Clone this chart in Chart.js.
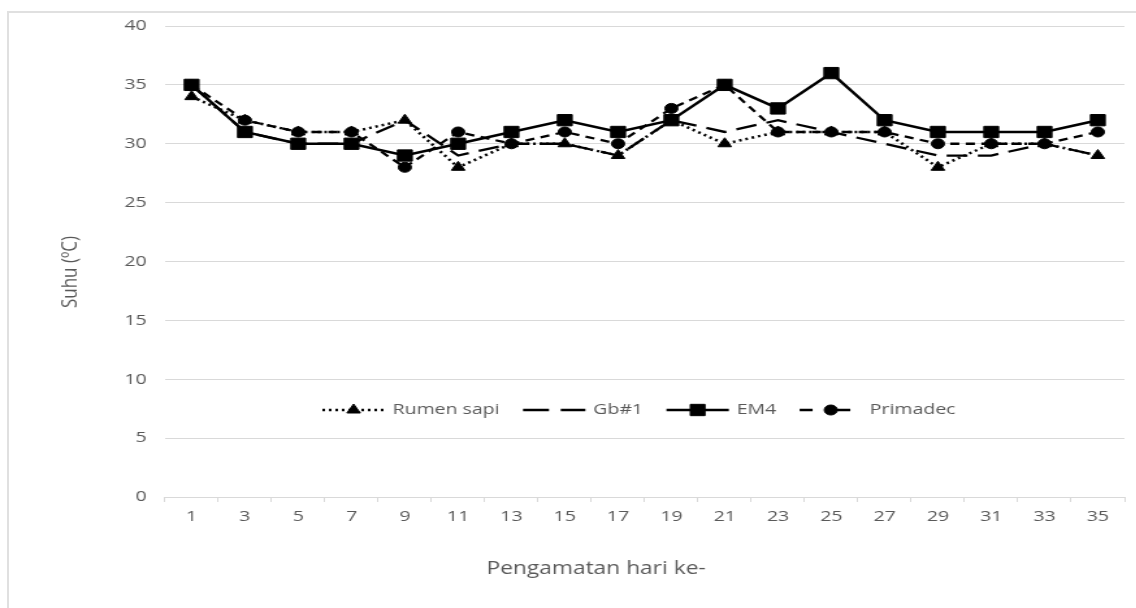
<!DOCTYPE html>
<html>
<head>
<meta charset="utf-8">
<title>Suhu</title>
<script src="https://cdn.jsdelivr.net/npm/chart.js@4.4.1/dist/chart.umd.min.js"></script>
<style>
    html, body { margin: 0; padding: 0; background: #fff; }
    #frame { position: relative; width: 1136px; height: 608px; overflow: hidden; }
    #border { position: absolute; left: 7px; top: 11px; width: 1200px; height: 700px; border: 2px solid #e0e0e0; }
    /* the reference is stretched sideways, so draw narrow and scale in x */
    #wrap { position: absolute; left: 0; top: 0; width: 874px; height: 608px; transform: scaleX(1.3); transform-origin: 0 0; }
</style>
</head>
<body>
<div id="frame">
    <div id="border"></div>
    <div id="wrap"><canvas id="suhu-chart"></canvas></div>
</div>
<script>
// Data
const days = ['1', '3', '5', '7', '9', '11', '13', '15', '17', '19', '21', '23', '25', '27', '29', '31', '33', '35'];
const rumenSapi = [34, 32, 31, 31, 32, 28, 30, 30, 29, 32, 30, 31, 31, 31, 28, 30, 30, 29];
const gb1 = [35, 31, 30, 30, 32, 29, 30, 30, 29, 32, 31, 32, 31, 30, 29, 29, 30, 29];
const em4 = [35, 31, 30, 30, 29, 30, 31, 32, 31, 32, 35, 33, 36, 32, 31, 31, 31, 32];
const primadec = [35, 32, 31, 31, 28, 31, 30, 31, 30, 33, 35, 31, 31, 31, 30, 30, 30, 31];
const suhuTicks = [0, 5, 10, 15, 20, 25, 30, 35, 40];

const xTitle = 'Pengamatan hari ke-';
const yTitle = 'Suhu (ºC)';

const FONT = "'Open Sans', sans-serif";
Chart.defaults.font.family = FONT;
Chart.defaults.color = '#595959';

// Legend sits inside the plot, Excel style: line sample with marker in the middle
const insideLegend = {
    id: 'insideLegend',
    afterDatasetsDraw(chart) {
        const ctx = chart.ctx;
        const y = 410;
        const sampleW = 48;
        let x = 248;
        ctx.save();
        ctx.font = '15px ' + FONT;
        ctx.textBaseline = 'middle';
        chart.data.datasets.forEach(ds => {
            ctx.strokeStyle = '#000';
            ctx.fillStyle = '#000';
            ctx.lineWidth = ds.borderWidth;
            ctx.setLineDash(ds.legendDash || []);
            ctx.beginPath();
            ctx.moveTo(x, y);
            ctx.lineTo(x + sampleW, y);
            ctx.stroke();
            ctx.setLineDash([]);
            if (ds.pointRadius > 0) {
                ctx.lineWidth = 1;
                Chart.helpers.drawPoint(ctx, {
                    pointStyle: ds.pointStyle,
                    radius: ds.pointRadius,
                    rotation: 0,
                    borderWidth: 1
                }, x + sampleW / 2, y);
            }
            ctx.fillStyle = '#595959';
            ctx.textAlign = 'left';
            const tx = x + sampleW + 6;
            ctx.fillText(ds.label, tx, y);
            x = tx + ctx.measureText(ds.label).width + 18;
        });
        ctx.restore();
    }
};

// Axis titles (placed where the reference has them)
const axisTitles = {
    id: 'axisTitles',
    afterDraw(chart) {
        const ctx = chart.ctx;
        ctx.save();
        ctx.fillStyle = '#595959';
        ctx.font = '17.5px ' + FONT;
        ctx.textAlign = 'center';
        ctx.textBaseline = 'alphabetic';
        ctx.fillText(xTitle, 458.5, 574);

        ctx.font = '17px ' + FONT;
        ctx.translate(54.6, 272);
        ctx.rotate(-Math.PI / 2);
        ctx.textBaseline = 'middle';
        ctx.fillText(yTitle, 0, 0);
        ctx.restore();
    }
};

new Chart(document.getElementById('suhu-chart'), {
    type: 'line',
    data: {
        labels: days,
        datasets: [{
            label: 'Rumen sapi',
            data: rumenSapi,
            borderColor: '#000',
            backgroundColor: '#000',
            borderWidth: 2.5,
            borderDash: [2, 3],
            legendDash: [2, 3],
            pointStyle: 'triangle',
            pointRadius: 6,
            pointBorderWidth: 1,
            order: 1
        }, {
            label: 'Gb#1',
            data: gb1,
            borderColor: '#000',
            backgroundColor: '#000',
            borderWidth: 2.3,
            borderDash: [16, 8],
            legendDash: [20, 9],
            pointRadius: 0,
            order: 3
        }, {
            label: 'EM4',
            data: em4,
            borderColor: '#000',
            backgroundColor: '#000',
            borderWidth: 2.5,
            pointStyle: 'rect',
            pointRadius: 8,
            pointBorderWidth: 1,
            order: 0
        }, {
            label: 'Primadec',
            data: primadec,
            borderColor: '#000',
            backgroundColor: '#000',
            borderWidth: 2.3,
            borderDash: [7, 5],
            legendDash: [10, 12, 17, 100],
            pointStyle: 'circle',
            pointRadius: 5,
            pointBorderWidth: 1,
            order: 2
        }]
    },
    options: {
        responsive: true,
        maintainAspectRatio: false,
        animation: false,
        events: [],
        layout: {
            padding: { top: 26, right: 4.8, left: 0, bottom: 0 }
        },
        plugins: {
            legend: { display: false },
            tooltip: { enabled: false }
        },
        scales: {
            x: {
                offset: true,
                grid: {
                    offset: true,
                    drawOnChartArea: false,
                    tickLength: 5,
                    color: '#d9d9d9'
                },
                border: { color: '#d9d9d9' },
                ticks: {
                    font: { size: 15 },
                    padding: 6,
                    maxRotation: 0,
                    autoSkip: false
                },
                afterFit: scale => { scale.height = 111; }
            },
            y: {
                min: suhuTicks[0],
                max: suhuTicks[suhuTicks.length - 1],
                afterBuildTicks: axis => { axis.ticks = suhuTicks.map(v => ({ value: v })); },
                grid: {
                    color: '#d9d9d9',
                    drawTicks: false
                },
                border: { display: false },
                ticks: {
                    font: { size: 15 },
                    padding: 14
                },
                afterFit: scale => { scale.width = 126.9; }
            }
        }
    },
    plugins: [insideLegend, axisTitles]
});
</script>
</body>
</html>
